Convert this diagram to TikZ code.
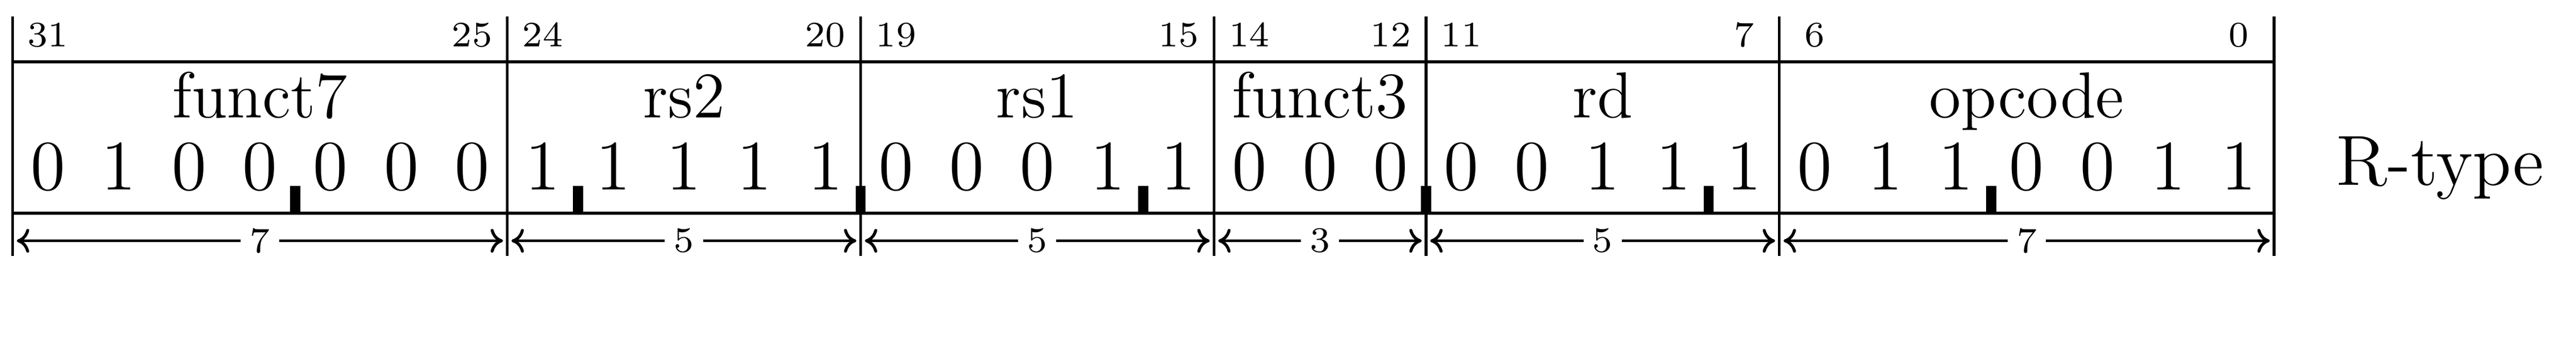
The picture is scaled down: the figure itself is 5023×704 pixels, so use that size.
\documentclass[tikz,border=0pt]{standalone}
\usepackage{fontspec}
\usetikzlibrary{arrows.meta}
\begin{document}
\begin{tikzpicture}[x=0.1032pt,y=-0.1032pt,
  frame/.style={line width=0.57pt},
  nibble/.style={line width=2.05pt},
  bitnum/.style={anchor=base,inner sep=0pt,font=\fontsize{7.2pt}{8.5pt}\selectfont},
  fname/.style={anchor=base,inner sep=0pt,font=\fontsize{13.1pt}{15pt}\selectfont},
  bitval/.style={anchor=base,inner sep=0pt,font=\fontsize{14.3pt}{17pt}\selectfont},
  dimlabel/.style={fill=white,inner sep=1.6pt,font=\fontsize{7.2pt}{8.5pt}\selectfont},
  dimarrow/.style={line width=0.6pt,
    >={Computer Modern Rightarrow[length=2.5pt,width=4.8pt,line cap=round]}},
]
\useasboundingbox (0,0) rectangle (5023,704);
\def\L{24.5}
\def\W{137.8}
% field boundaries
\foreach \k in {0,7,12,17,20,25,32} {
  \coordinate (top\k) at ({\L+\W*\k},32.5);
  \coordinate (hi\k) at ({\L+\W*\k},120.5);
  \coordinate (lo\k) at ({\L+\W*\k},416);
  \coordinate (ar\k) at ({\L+\W*\k},469.7);
  \coordinate (bot\k) at ({\L+\W*\k},499);
  \draw[frame] (top\k) -- (bot\k);
}
\draw[frame] (hi0) -- (hi32);
\draw[frame] (lo0) -- (lo32);
% nibble ticks
\foreach \k in {4,8,...,28} {
  \coordinate (tka\k) at ({\L+\W*\k},362.8);
  \coordinate (tkb\k) at ({\L+\W*\k},417);
  \draw[nibble] (tka\k) -- (tkb\k);
}
% bit values
\foreach \b [count=\i from 0] in {0,1,0,0,0,0,0,1,1,1,1,1,0,0,0,1,1,0,0,0,0,0,1,1,1,0,1,1,0,0,1,1} {
  \node[bitval] (bit\i) at ({\L+\W*(\i+0.5)},370.5) {\b};
}
% fields
\foreach \s/\e/\n/\m/\l/\w in {0/7/funct7/31/25/7, 7/12/rs2/24/20/5, 12/17/rs1/19/15/5, 17/20/funct3/14/12/3, 20/25/rd/11/7/5, 25/32/opcode/6/0/7} {
  \node[fname] (f\n) at ({\L+\W*(\s+\e)/2},229.6) {\n};
  \node[bitnum] (m\n) at ({\L+\W*(\s+0.5)},90.7) {\m};
  \node[bitnum] (l\n) at ({\L+\W*(\e-0.5)},90.7) {\l};
  \node[dimlabel] (d\n) at ({\L+\W*(\s+\e)/2},469.7) {\w};
  \draw[dimarrow,<-,shorten <=0.85pt] (ar\s) -- (d\n);
  \draw[dimarrow,->,shorten >=0.85pt] (d\n) -- (ar\e);
}
\node[bitval] (rtype) at (4758,361.5) {R-type};
\end{tikzpicture}
\end{document}
